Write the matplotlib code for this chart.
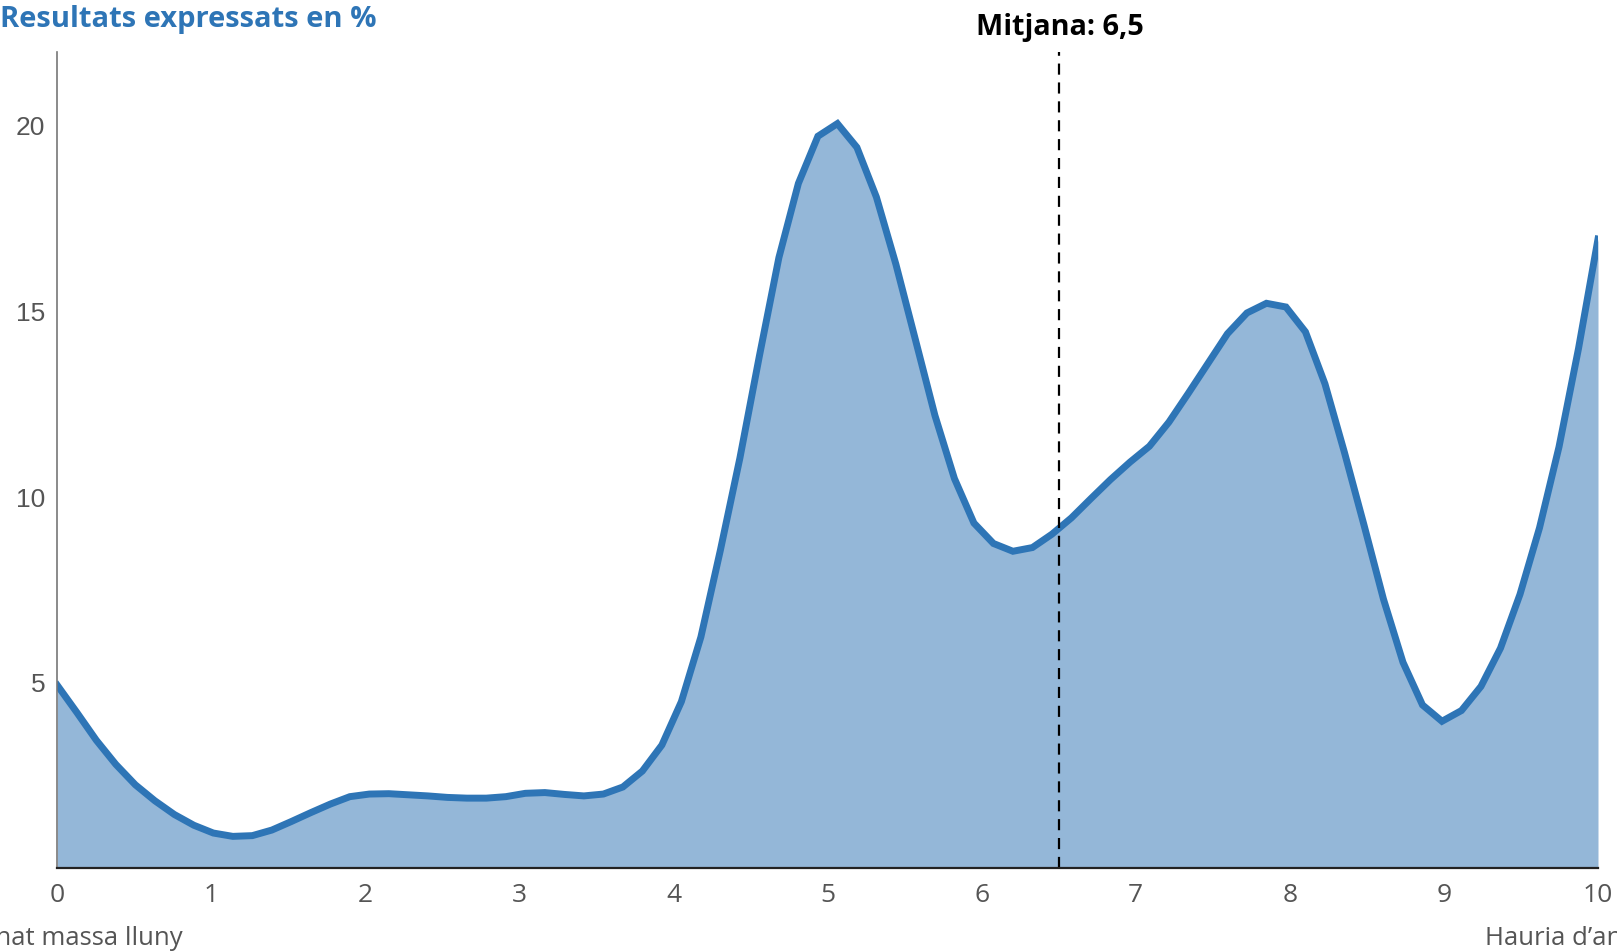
import matplotlib

matplotlib.use("Agg")

import matplotlib.pyplot as plt
import numpy as np

# Distribution of answers on a 0-10 scale (percent), sampled at 80 points
score_x = np.linspace(0, 10, 80)
share_pct = [
    4.93, 4.20, 3.45, 2.80, 2.25, 1.82, 1.45, 1.16, 0.95, 0.86,
    0.88, 1.03, 1.26, 1.50, 1.73, 1.93, 2.00, 2.01, 1.98, 1.95,
    1.91, 1.89, 1.89, 1.93, 2.02, 2.04, 1.99, 1.95, 2.00, 2.19,
    2.62, 3.32, 4.49, 6.23, 8.57, 11.05, 13.80, 16.45, 18.45, 19.72,
    20.06, 19.42, 18.08, 16.27, 14.24, 12.20, 10.50, 9.30, 8.75, 8.54,
    8.64, 9.00, 9.44, 9.96, 10.47, 10.94, 11.37, 12.02, 12.80, 13.60,
    14.40, 14.96, 15.22, 15.12, 14.45, 13.05, 11.20, 9.25, 7.25, 5.55,
    4.40, 3.96, 4.25, 4.90, 5.93, 7.38, 9.17, 11.35, 14.00, 16.95,
]
mean_value = 6.5
x_ticks = list(range(0, 11))
y_ticks = [5, 10, 15, 20]
title = "Resultats expressats en %"
mean_label = "Mitjana: 6,5"
low_label = "He anat massa lluny"
high_label = "Hauria d\u2019anar més lluny"

W, H = 1617, 951
LINE = "#2e75b6"
FILL = "#94b7d8"
GREY = "#555555"


def fx(px):
    return px / W


def fy(py):
    return 1 - py / H


fig = plt.figure(figsize=(W / 100, H / 100), dpi=100)
ax = fig.add_axes([fx(57.3), fy(868.3), fx(1598) - fx(57.3), fy(51.6) - fy(868.3)])

ax.fill_between(score_x, share_pct, 0, color=FILL, lw=0, zorder=1)
ax.plot(score_x, share_pct, color=LINE, lw=5, solid_joinstyle="miter", zorder=3)
ax.axvline(mean_value, color="black", lw=1.6, dashes=(5, 3.5), zorder=4)

ax.set_xlim(0, 10)
ax.set_ylim(0, 22)
ax.set_xticks(x_ticks)
ax.set_yticks(y_ticks)
ax.tick_params(length=0)
ax.tick_params(axis="x", pad=10.5, labelsize=19, labelcolor=GREY)
ax.tick_params(axis="y", pad=8.5, labelsize=19, labelcolor=GREY)
for lab in ax.get_xticklabels():
    lab.set_family("Open Sans")
for lab in ax.get_yticklabels():
    lab.set_family("Liberation Sans")

for side in ("top", "right"):
    ax.spines[side].set_visible(False)
ax.spines["left"].set_color("#777777")
ax.spines["left"].set_linewidth(1.2)
ax.spines["bottom"].set_color("#222222")
ax.spines["bottom"].set_linewidth(1.6)
ax.spines["left"].set_zorder(5)
ax.spines["bottom"].set_zorder(5)

fig.text(fx(0), fy(27), title, family="Open Sans", weight="bold",
         fontsize=21, color=LINE, ha="left", va="baseline")
fig.text(fx(1060), fy(35), mean_label, family="Open Sans", weight="bold",
         fontsize=20.8, color="black", ha="center", va="baseline")
# the two scale-end captions run off the figure edge, as in the original
fig.text(fx(183), fy(945), low_label, family="Open Sans",
         fontsize=18.5, color=GREY, ha="right", va="baseline")
fig.text(fx(1485), fy(945), high_label, family="Open Sans",
         fontsize=18.5, color=GREY, ha="left", va="baseline")

fig.savefig("out.png", dpi=100)
